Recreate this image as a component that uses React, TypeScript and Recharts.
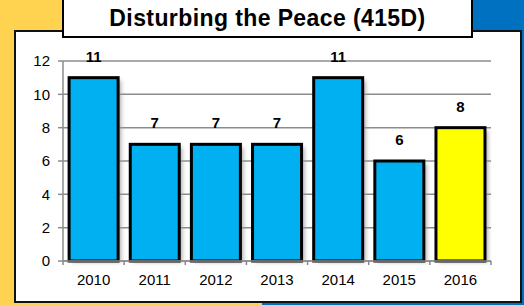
import { BarChart, Bar, XAxis, YAxis, CartesianGrid, Cell, LabelList } from 'recharts'

const years = ['2010', '2011', '2012', '2013', '2014', '2015', '2016']
const counts = [11, 7, 7, 7, 11, 6, 8]
const yTicks = [0, 2, 4, 6, 8, 10, 12]
const highlightYear = '2016'

const data = years.map((year, i) => ({ year, count: counts[i] }))

const FONT = 'Arial, "Liberation Sans", sans-serif'

// bar with black outline + soft shadow on the right
function ShadowBar(props: any) {
  const { x, y, width, height, fill } = props
  if (height <= 0) return null
  return (
    <g>
      <rect x={x + 3} y={y + 3} width={width} height={height - 2} fill="#999" filter="url(#barShadow)" opacity={0.8} />
      <rect x={x} y={y} width={width} height={height} fill={fill} stroke="#000" strokeWidth={3} />
    </g>
  )
}

function YearTick(props: any) {
  const { x, y, payload, index } = props
  const half = payload.offset || 0
  return (
    <g>
      <line x1={x - half} y1={y - 8} x2={x - half} y2={y - 4} stroke="#888" strokeWidth={1.5} />
      {index === years.length - 1 && (
        <line x1={x + half} y1={y - 8} x2={x + half} y2={y - 4} stroke="#888" strokeWidth={1.5} />
      )}
      <text x={x} y={y + 16} textAnchor="middle" fontFamily={FONT} fontSize={15} fill="#000">
        {payload.value}
      </text>
    </g>
  )
}

export default function App() {
  return (
    <div style={{ position: 'fixed', left: 0, top: 0, width: 524, height: 305, overflow: 'hidden',
      background: 'linear-gradient(to right, #FFD34F 50%, #0070C0 50%)' }}>
      <div style={{ position: 'absolute', left: 14, top: 30, width: 504, height: 269,
        border: '2px solid #111', background: '#fff' }} />
      <div style={{ position: 'absolute', left: 62, top: -2, width: 407, height: 36,
        border: '2px solid #000', background: '#fff', display: 'flex', alignItems: 'center',
        justifyContent: 'center', fontFamily: FONT, fontWeight: 'bold', fontSize: 23,
        letterSpacing: 0.4, color: '#000' }}>
        Disturbing the Peace (415D)
      </div>
      <div style={{ position: 'absolute', left: 0, top: 0 }}>
        <BarChart width={524} height={305} data={data} barCategoryGap="10%"
          margin={{ top: 61, right: 33, bottom: 14, left: 0 }}>
          <defs>
            <filter id="barShadow" x="-20%" y="-20%" width="140%" height="140%">
              <feGaussianBlur stdDeviation="2" />
            </filter>
          </defs>
          <CartesianGrid vertical={false} stroke="#8c8c8c" strokeWidth={1.5} />
          <XAxis dataKey="year" height={30} tickLine={false} interval={0}
            axisLine={{ stroke: '#8c8c8c', strokeWidth: 1.5 }} tick={<YearTick />} />
          <YAxis width={63} domain={[0, 12]} ticks={yTicks} interval={0} tickSize={5} tickMargin={8}
            axisLine={{ stroke: '#8c8c8c', strokeWidth: 1.5 }} tickLine={{ stroke: '#8c8c8c', strokeWidth: 1.5 }}
            tick={{ fill: '#000', fontSize: 15, fontFamily: FONT }} />
          <Bar dataKey="count" isAnimationActive={false} shape={<ShadowBar />}>
            {data.map(d => (
              <Cell key={d.year} fill={d.year === highlightYear ? '#FFFF00' : '#00B0F0'} />
            ))}
            <LabelList dataKey="count" position="top" offset={16}
              style={{ fontFamily: FONT, fontWeight: 'bold', fontSize: 15, fill: '#000' }} />
          </Bar>
        </BarChart>
      </div>
    </div>
  )
}
